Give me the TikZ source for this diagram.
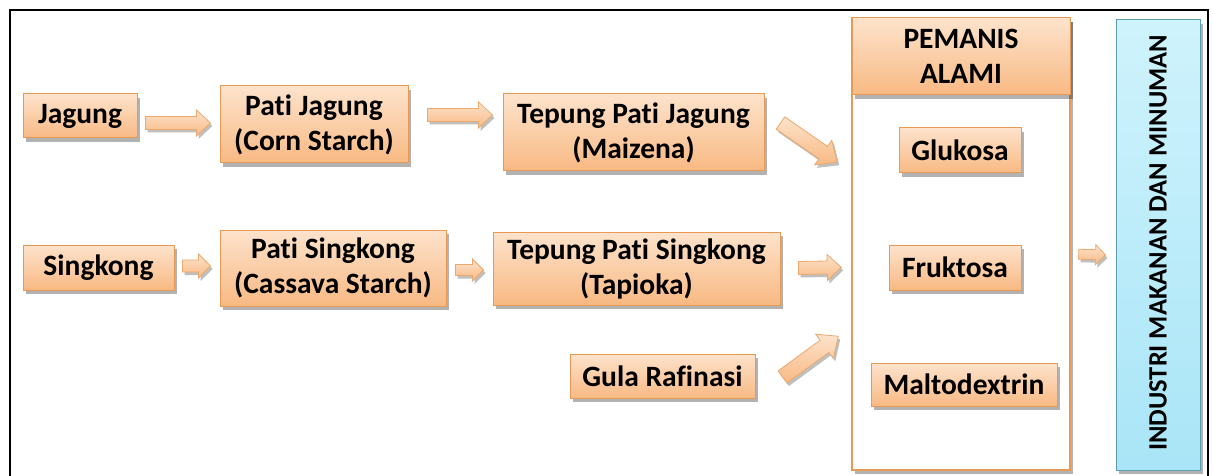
\documentclass[tikz,border=0pt]{standalone}
\usepackage{fontspec}
\setmainfont[Ligatures={NoCommon}]{Carlito}
\usetikzlibrary{calc,shadows,positioning}
\definecolor{otop}{HTML}{FDE3CC}
\definecolor{obot}{HTML}{F8B983}
\definecolor{oedge}{HTML}{E89A55}
\definecolor{btop}{HTML}{CFF3FC}
\definecolor{bbot}{HTML}{A9E5F7}
\definecolor{bedge}{HTML}{5C9DB4}
\tikzset{
  x=1pt,y=1pt,
  every node/.style={font=\fontsize{29.5}{35}\selectfont\bfseries, text=black, align=center, inner sep=0pt},
  obox/.style={draw=oedge, line width=1pt, top color=otop, bottom color=obot,
    drop shadow={shadow xshift=3pt, shadow yshift=-4pt, fill=black, opacity=0.3}},
  bbox/.style={draw=bedge, line width=1pt, top color=btop, bottom color=bbot,
    drop shadow={shadow xshift=3pt, shadow yshift=-4pt, fill=black, opacity=0.3}},
  cbox/.style={draw=oedge, line width=1.5pt, fill=white,
    drop shadow={shadow xshift=3pt, shadow yshift=-4pt, fill=black, opacity=0.3}},
  barrow/.style 2 args={draw=oedge!85, line width=0.8pt, top color=otop, bottom color=obot,
    drop shadow={shadow xshift=2pt, shadow yshift=-3pt, fill=black, opacity=0.25},
    to path={let \p1=($(\tikztotarget)-(\tikztostart)$), \n1={veclen(\x1,\y1)}, \n2={atan2(\y1,\x1)} in
      ([shift={(\tikztostart)},rotate=\n2]0,#1)
      -- ([shift={(\tikztostart)},rotate=\n2]{\n1-#2},#1)
      -- ([shift={(\tikztostart)},rotate=\n2]{\n1-#2},{2*#1})
      -- (\tikztotarget)
      -- ([shift={(\tikztostart)},rotate=\n2]{\n1-#2},{-2*#1})
      -- ([shift={(\tikztostart)},rotate=\n2]{\n1-#2},-#1)
      -- ([shift={(\tikztostart)},rotate=\n2]0,-#1) -- cycle}},
}
\begin{document}
\begin{tikzpicture}
\useasboundingbox (0,0) rectangle (1213,-476);
\fill[white] (0,0) rectangle (1213,-476);
% outer frame
\draw[line width=1.3pt, black] (10,-480) -- (10,-10) -- (1208,-10) -- (1208,-480);

% container
\node[cbox, minimum width=218, minimum height=452] (cont) at (961,-244) {};
\node[obox, minimum width=218, minimum height=77] (pem) at (961,-56.5) {PEMANIS\\ALAMI};

% row 1
\node[obox, minimum width=114, minimum height=44] (jag) at (80,-116) {Jagung};
\node[obox, minimum width=188, minimum height=77] (patij) at (314,-124.5) {Pati Jagung\\(Corn Starch)};
\node[obox, minimum width=261, minimum height=77] (tepj) at (633.5,-132.5) {Tepung Pati Jagung\\(Maizena)};

% row 2
\node[obox, minimum width=151, minimum height=45] (sing) at (98.5,-267.5) {Singkong};
\node[obox, minimum width=226, minimum height=76] (patis) at (333,-268) {Pati Singkong\\(Cassava Starch)};
\node[obox, minimum width=287, minimum height=73] (teps) at (636.5,-268.5) {Tepung Pati Singkong\\(Tapioka)};
\node[obox, minimum width=185, minimum height=44] (gula) at (662.5,-376) {Gula Rafinasi};

% sweeteners
\node[obox, minimum width=122, minimum height=45] (glu) at (960,-150.5) {Glukosa};
\node[obox, minimum width=132, minimum height=45] (fru) at (955,-267.5) {Fruktosa};
\node[obox, minimum width=186, minimum height=43] (mal) at (964,-384.5) {Maltodextrin};

% industry
\node[bbox, minimum width=84, minimum height=450] (ind) at (1158,-245) {};
\node[rotate=90, font=\fontsize{26.5}{30}\selectfont\bfseries] (indt) at ([yshift=2]ind.center) {INDUSTRI MAKANAN DAN MINUMAN};

% arrows
\draw[barrow={6.5}{14}] ([xshift=8,yshift=-7]jag.east) to ([xshift=-9,yshift=1.5]patij.west);
\draw[barrow={6.5}{14}] ([xshift=19,yshift=9.5]patij.east) to ([xshift=-10,yshift=17.5]tepj.west);
\draw[barrow={7.5}{17}] ([xshift=16,yshift=9.5]tepj.east) to ([xshift=-14,yshift=-145]cont.north west);
\draw[barrow={6}{12}] ([xshift=8,yshift=1.5]sing.east) to ([xshift=-9,yshift=2]patis.west);
\draw[barrow={5.5}{11}] ([xshift=9,yshift=-2]patis.east) to ([xshift=-9,yshift=-1.5]teps.west);
\draw[barrow={6.5}{14}] ([xshift=18,yshift=0.5]teps.east) to ([xshift=-10,yshift=-250]cont.north west);
\draw[barrow={7.5}{17}] ([xshift=27,yshift=-1]gula.east) to ([xshift=-13,yshift=-319]cont.north west);
\draw[barrow={5}{10}] ([xshift=8,yshift=-237]cont.north east) to ([xshift=-10,yshift=-10]ind.west);
\end{tikzpicture}
\end{document}
